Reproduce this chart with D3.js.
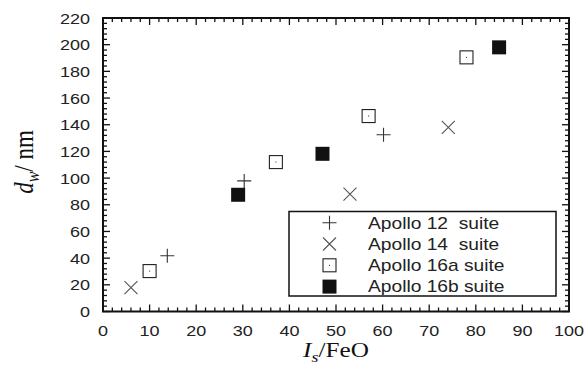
<!DOCTYPE html>
<html>
<head>
<meta charset="utf-8">
<script src="https://cdn.jsdelivr.net/npm/d3@7"></script>
<style>
  body { margin: 0; background: #fff; }
  svg { display: block; }
</style>
</head>
<body>
<svg id="chart" width="588" height="374"></svg>
<script>
// data (Is/FeO, dw in nm)
const apollo12 = [[13.8, 41.8], [30.3, 97.9], [60.2, 132.5]];
const apollo14 = [[6.0, 17.9], [53.0, 88.0], [74.1, 138.0]];
const apollo16a = [[10.0, 30.3], [37.1, 112.0], [57.0, 146.5], [78.0, 190.5]];
const apollo16b = [[29.0, 87.5], [47.1, 118.2], [85.0, 198.0]];

const seriesNames = ["Apollo 12\u00a0 suite", "Apollo 14\u00a0 suite", "Apollo 16a suite", "Apollo 16b suite"];
const xTicks = [0, 10, 20, 30, 40, 50, 60, 70, 80, 90, 100];
const yTicks = [0, 20, 40, 60, 80, 100, 120, 140, 160, 180, 200, 220];

const svg = d3.select("#chart");
const plotL = 103, plotR = 569, plotT = 18, plotB = 311.5;
const stretch = 1.2; // the original figure is a bit wider than tall in its lettering

const x = d3.scaleLinear().domain([0, 100]).range([plotL, plotR]);
const y = d3.scaleLinear().domain([0, 220]).range([plotB, plotT]);

const ink = "#111";
const tickFont = "Arial, 'Liberation Sans', sans-serif";

// ticks, inward on all four sides
const xMinor = d3.range(0, 101, 2);
const yMinor = d3.range(0, 221, 4);
const tickG = svg.append("g").attr("stroke", ink).attr("stroke-width", 1.3);

xMinor.forEach(v => {
  const len = v % 10 === 0 ? 7 : 4;
  tickG.append("line").attr("x1", x(v)).attr("x2", x(v)).attr("y1", plotB).attr("y2", plotB - len);
  tickG.append("line").attr("x1", x(v)).attr("x2", x(v)).attr("y1", plotT).attr("y2", plotT + len);
});
yMinor.forEach(v => {
  const len = v % 20 === 0 ? 7 : 4;
  tickG.append("line").attr("y1", y(v)).attr("y2", y(v)).attr("x1", plotL).attr("x2", plotL + len);
  tickG.append("line").attr("y1", y(v)).attr("y2", y(v)).attr("x1", plotR).attr("x2", plotR - len);
});

svg.append("rect")
  .attr("x", plotL).attr("y", plotT)
  .attr("width", plotR - plotL).attr("height", plotB - plotT)
  .attr("fill", "none").attr("stroke", ink).attr("stroke-width", 2);

// tick labels
svg.append("g").selectAll("text")
  .data(xTicks).join("text")
  .attr("transform", d => `translate(${x(d)},${plotB + 24}) scale(${stretch},1)`)
  .attr("text-anchor", "middle")
  .attr("font-family", tickFont).attr("font-size", 15).attr("fill", "#222")
  .text(d => d);

svg.append("g").selectAll("text")
  .data(yTicks).join("text")
  .attr("transform", d => `translate(${plotL - 13},${y(d) + 5.5}) scale(${stretch},1)`)
  .attr("text-anchor", "end")
  .attr("font-family", tickFont).attr("font-size", 15).attr("fill", "#222")
  .text(d => d);

// axis titles
const serif = "'Liberation Serif', 'Times New Roman', serif";
const xt = svg.append("text")
  .attr("transform", `translate(336,357) scale(${stretch},1)`)
  .attr("text-anchor", "middle")
  .attr("font-family", serif).attr("font-size", 21).attr("fill", ink);
xt.append("tspan").attr("font-style", "italic").text("I");
xt.append("tspan").attr("font-style", "italic").attr("font-size", 15).attr("dy", 5).text("s");
xt.append("tspan").attr("dy", -5).text("/FeO");

const yt = svg.append("text")
  .attr("transform", `translate(33,162) scale(${stretch},1) rotate(-90)`)
  .attr("text-anchor", "middle")
  .attr("font-family", serif).attr("font-size", 23).attr("fill", ink);
yt.append("tspan").attr("font-style", "italic").text("d");
yt.append("tspan").attr("font-style", "italic").attr("font-size", 16).attr("dy", 5).text("w");
yt.append("tspan").attr("dy", -5).text("/ nm");

// marker drawers
const plus = (g, cx, cy) => {
  g.append("path").attr("d", `M${cx - 7},${cy}H${cx + 7}M${cx},${cy - 7}V${cy + 7}`)
    .attr("stroke", "#333").attr("stroke-width", 1.1).attr("fill", "none");
};
const cross = (g, cx, cy) => {
  g.append("path").attr("d", `M${cx - 6.5},${cy - 6.5}L${cx + 6.5},${cy + 6.5}M${cx - 6.5},${cy + 6.5}L${cx + 6.5},${cy - 6.5}`)
    .attr("stroke", "#555").attr("stroke-width", 1.1).attr("fill", "none");
};
const openSq = (g, cx, cy) => {
  g.append("rect").attr("x", cx - 6.5).attr("y", cy - 6.5).attr("width", 13).attr("height", 13)
    .attr("fill", "#fff").attr("stroke", "#222").attr("stroke-width", 1.1);
  g.append("rect").attr("x", cx - 0.5).attr("y", cy - 0.5).attr("width", 1).attr("height", 1).attr("fill", "#222");
};
const fillSq = (g, cx, cy) => {
  g.append("rect").attr("x", cx - 7).attr("y", cy - 7).attr("width", 14).attr("height", 14)
    .attr("fill", "#111");
};

const marks = svg.append("g");
apollo12.forEach(d => plus(marks, x(d[0]), y(d[1])));
apollo14.forEach(d => cross(marks, x(d[0]), y(d[1])));
apollo16a.forEach(d => openSq(marks, x(d[0]), y(d[1])));
apollo16b.forEach(d => fillSq(marks, x(d[0]), y(d[1])));

// legend
const lg = svg.append("g");
lg.append("rect").attr("x", 289).attr("y", 211.5).attr("width", 267).attr("height", 84.5)
  .attr("fill", "#fff").attr("stroke", ink).attr("stroke-width", 1.5);
const drawers = [plus, cross, openSq, fillSq];
seriesNames.forEach((name, i) => {
  const ry = 222.7 + i * 21.3;
  drawers[i](lg, 329.5, ry);
  lg.append("text")
    .attr("transform", `translate(368,${ry + 5.8}) scale(${stretch},1)`)
    .attr("font-family", tickFont).attr("font-size", 16).attr("fill", "#222")
    .text(name);
});
</script>
</body>
</html>
